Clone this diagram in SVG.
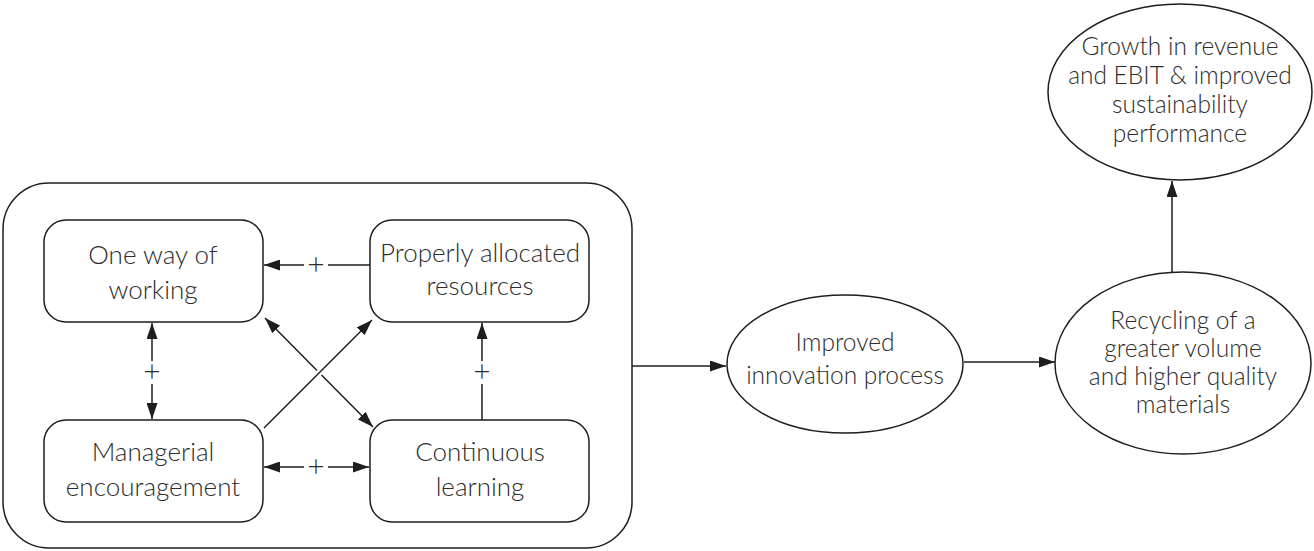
<svg xmlns="http://www.w3.org/2000/svg" width="1314" height="551" viewBox="0 0 1314 551">
  <style>
    .shape { fill: #ffffff; stroke: #1e1e1e; stroke-width: 1.5; }
    .frame { fill: none; stroke: #1e1e1e; stroke-width: 1.5; }
    .link { fill: none; stroke: #1e1e1e; stroke-width: 1.5; }
    .label { font-family: Lato, "Open Sans", "Liberation Sans", sans-serif; font-weight: 300; fill: #2c2c2c; text-anchor: middle; }
    .box { font-size: 26px; }
    .oval { font-size: 24.5px; }
    .sign { font-family: Lato, "Liberation Sans", sans-serif; font-weight: 300; font-size: 30px; fill: #2c2c2c; text-anchor: middle; }
  </style>
  <defs>
    <marker id="head" viewBox="0 0 16 11" refX="16" refY="5.5" markerWidth="16" markerHeight="11" markerUnits="userSpaceOnUse" orient="auto-start-reverse">
      <path d="M0,0 L16,5.5 L0,11 z" fill="#1e1e1e"/>
    </marker>
  </defs>

  <rect class="frame" x="3" y="183" width="629" height="365" rx="46" ry="46"/>

  <g id="connectors">
    <!-- Properly allocated resources -> One way of working -->
    <line class="link" x1="370" y1="265" x2="328" y2="265"/>
    <line class="link" x1="304" y1="265" x2="264" y2="265" marker-end="url(#head)"/>
    <text class="sign" x="316" y="275">+</text>
    <!-- One way of working <-> Managerial encouragement -->
    <line class="link" x1="152" y1="323" x2="152" y2="361" marker-start="url(#head)"/>
    <line class="link" x1="152" y1="384" x2="152" y2="419" marker-end="url(#head)"/>
    <text class="sign" x="152" y="382">+</text>
    <!-- Managerial encouragement <-> Continuous learning -->
    <line class="link" x1="264" y1="467" x2="304" y2="467" marker-start="url(#head)"/>
    <line class="link" x1="328" y1="467" x2="369" y2="467" marker-end="url(#head)"/>
    <text class="sign" x="316" y="477">+</text>
    <!-- Continuous learning -> Properly allocated resources -->
    <line class="link" x1="482" y1="420" x2="482" y2="384"/>
    <line class="link" x1="482" y1="361" x2="482" y2="323" marker-end="url(#head)"/>
    <text class="sign" x="482" y="382">+</text>
    <!-- diagonals crossing between the four boxes, one broken at the crossing -->
    <line class="link" x1="264" y1="428" x2="372" y2="320" marker-end="url(#head)"/>
    <line class="link" x1="265" y1="318" x2="317" y2="370.5" marker-start="url(#head)"/>
    <line class="link" x1="321.5" y1="375" x2="373" y2="427" marker-end="url(#head)"/>
    <!-- frame -> Improved innovation process -->
    <line class="link" x1="632" y1="366" x2="726" y2="366" marker-end="url(#head)"/>
    <!-- Improved innovation process -> Recycling -->
    <line class="link" x1="964" y1="362" x2="1055" y2="362" marker-end="url(#head)"/>
    <!-- Recycling -> Growth -->
    <line class="link" x1="1172" y1="272" x2="1172" y2="181" marker-end="url(#head)"/>
  </g>

  <g id="one-way">
    <rect class="shape" x="44" y="220" width="219" height="102" rx="22"/>
    <text class="label box" x="153" y="264">One way of</text>
    <text class="label box" x="153" y="299">working</text>
  </g>
  <g id="properly-allocated">
    <rect class="shape" x="370" y="220" width="219" height="102" rx="22"/>
    <text class="label box" x="480" y="262">Properly allocated</text>
    <text class="label box" x="480" y="295">resources</text>
  </g>
  <g id="managerial">
    <rect class="shape" x="44" y="420" width="219" height="102" rx="22"/>
    <text class="label box" x="153" y="461">Managerial</text>
    <text class="label box" x="153" y="496">encouragement</text>
  </g>
  <g id="continuous-learning">
    <rect class="shape" x="370" y="420" width="219" height="102" rx="22"/>
    <text class="label box" x="480" y="461">Continuous</text>
    <text class="label box" x="480" y="496">learning</text>
  </g>
  <g id="innovation">
    <ellipse class="shape" cx="845" cy="364" rx="118" ry="69"/>
    <text class="label oval" x="845" y="351">Improved</text>
    <text class="label oval" x="845" y="384">innovation process</text>
  </g>
  <g id="recycling">
    <ellipse class="shape" cx="1183" cy="363" rx="128" ry="91"/>
    <text class="label oval" x="1183" y="329">Recycling of a</text>
    <text class="label oval" x="1183" y="357">greater volume</text>
    <text class="label oval" x="1183" y="385">and higher quality</text>
    <text class="label oval" x="1183" y="413">materials</text>
  </g>
  <g id="growth">
    <ellipse class="shape" cx="1180" cy="92" rx="132" ry="88"/>
    <text class="label oval" x="1180" y="55">Growth in revenue</text>
    <text class="label oval" x="1180" y="84">and EBIT &amp; improved</text>
    <text class="label oval" x="1180" y="113">sustainability</text>
    <text class="label oval" x="1180" y="142">performance</text>
  </g>
</svg>
